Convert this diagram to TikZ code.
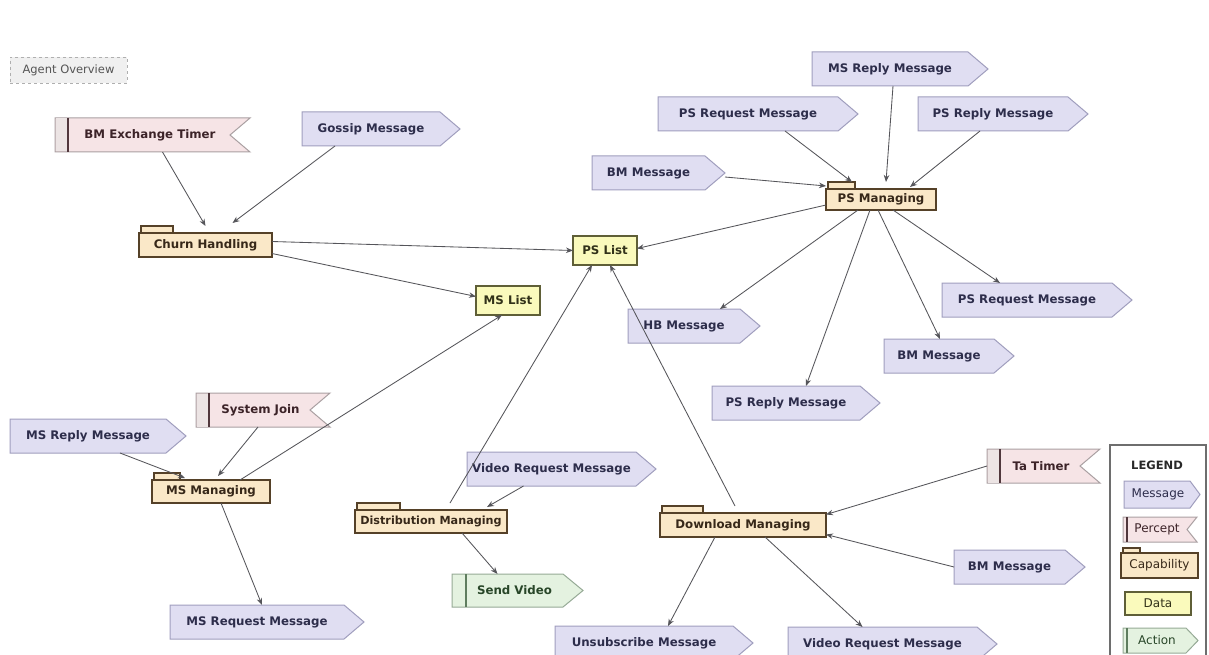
\documentclass[tikz,border=0pt]{standalone}
\usepackage{fontspec}
\setmainfont{DejaVu Sans}
\usetikzlibrary{calc,arrows.meta}

\definecolor{msgfill}{RGB}{224,222,242}
\definecolor{msgline}{RGB}{160,158,190}
\definecolor{msgink}{RGB}{45,45,75}
\definecolor{perfill}{RGB}{246,228,230}
\definecolor{perside}{RGB}{236,228,228}
\definecolor{perline}{RGB}{170,160,162}
\definecolor{perbar}{RGB}{80,55,60}
\definecolor{perink}{RGB}{60,35,40}
\definecolor{capfill}{RGB}{250,232,200}
\definecolor{capline}{RGB}{85,65,40}
\definecolor{capink}{RGB}{55,40,25}
\definecolor{datfill}{RGB}{250,250,188}
\definecolor{datline}{RGB}{95,95,55}
\definecolor{datink}{RGB}{50,50,25}
\definecolor{actfill}{RGB}{228,242,224}
\definecolor{actline}{RGB}{150,170,150}
\definecolor{actbar}{RGB}{95,125,95}
\definecolor{actink}{RGB}{40,70,40}
\definecolor{wire}{RGB}{85,85,90}

\tikzset{
  x=1pt, y=-1pt,
  hitbox/.style={draw=none, fill=none, inner sep=0pt, outer sep=0pt},
  lbl/.style={font=\fontsize{11.8}{14}\selectfont\bfseries, inner sep=0pt},
  keylbl/.style={font=\fontsize{12}{14}\selectfont, inner sep=0pt},
  msgsty/.style={fill=msgfill, draw=msgline, line width=1pt, line join=miter},
  persty/.style={fill=perfill, draw=perline, line width=1pt},
  capsty/.style={fill=capfill, draw=capline, line width=1.2pt},
  datsty/.style={fill=datfill, draw=datline, line width=1.4pt},
  actsty/.style={fill=actfill, draw=actline, line width=1pt},
  conn/.style={draw=wire, line width=0.85pt, -{Stealth[length=7pt,width=5.5pt]}},
}

% message: [tip length] name, x1, y1, x2, y2, text
\newcommand\msgbox[7][20]{%
  \filldraw[msgsty] (#3,#4) -- ({#5-#1},#4) -- (#5,{(#4+#6)/2}) -- ({#5-#1},#6) -- (#3,#6) -- cycle;
  \node[hitbox, minimum width={(#5-#3)*1pt}, minimum height={(#6-#4)*1pt}] (#2) at ({(#3+#5)/2},{(#4+#6)/2}) {};
  \node[lbl, text=msgink] at ({(#3+#5-#1)/2},{(#4+#6)/2}) {#7};}

% percept: name, x1, y1, x2, y2, text
\newcommand\perceptbox[6]{%
  \filldraw[persty] (#2,#3) -- (#4,#3) -- ({#4-20},{(#3+#5)/2}) -- (#4,#5) -- (#2,#5) -- cycle;
  \fill[perside] ({#2+0.5},{#3+0.5}) rectangle ({#2+13},{#5-0.5});
  \draw[perbar, line width=1.6pt] ({#2+13},#3) -- ({#2+13},#5);
  \node[hitbox, minimum width={(#4-#2)*1pt}, minimum height={(#5-#3)*1pt}] (#1) at ({(#2+#4)/2},{(#3+#5)/2}) {};
  \node[lbl, text=perink] at ({(#2+#4-5)/2},{(#3+#5)/2}) {#6};}

% capability: name, x1, y1, x2, y2, tab width, text
\newcommand\capbox[7]{%
  \filldraw[capsty] ({#2+2},#3) rectangle ({#2+2+#6},{#3+7});
  \filldraw[capsty] (#2,{#3+7}) rectangle (#4,#5);
  \node[hitbox, minimum width={(#4-#2)*1pt}, minimum height={(#5-#3)*1pt}] (#1) at ({(#2+#4)/2},{(#3+#5)/2}) {};
  \node[lbl, text=capink] at ({(#2+#4)/2},{(#3+7+#5)/2}) {#7};}

% data: name, x1, y1, x2, y2, text
\newcommand\databox[6]{%
  \filldraw[datsty] (#2,#3) rectangle (#4,#5);
  \node[hitbox, minimum width={(#4-#2)*1pt}, minimum height={(#5-#3)*1pt}] (#1) at ({(#2+#4)/2},{(#3+#5)/2}) {};
  \node[lbl, text=datink] at ({(#2+#4)/2},{(#3+#5)/2}) {#6};}

% action: name, x1, y1, x2, y2, text
\newcommand\actionbox[6]{%
  \filldraw[actsty] (#2,#3) -- ({#4-20},#3) -- (#4,{(#3+#5)/2}) -- ({#4-20},#5) -- (#2,#5) -- cycle;
  \draw[actbar, line width=1.6pt] ({#2+14},#3) -- ({#2+14},#5);
  \node[hitbox, minimum width={(#4-#2)*1pt}, minimum height={(#5-#3)*1pt}] (#1) at ({(#2+#4)/2},{(#3+#5)/2}) {};
  \node[lbl, text=actink] at ({(#2+#4-6)/2},{(#3+#5)/2}) {#6};}

\begin{document}
\begin{tikzpicture}
\useasboundingbox[fill=white] (0,0) rectangle (1209,655);

% title tag
\node[draw={rgb,255:red,175;green,175;blue,175}, dashed, fill={rgb,255:red,240;green,240;blue,240},
      minimum width=117pt, minimum height=26pt, inner sep=0pt,
      font=\fontsize{11.5}{13}\selectfont, text={rgb,255:red,85;green,85;blue,85}]
      (title) at (68.5,70) {Agent Overview};

% capabilities
\capbox{churn}{139}{226}{272}{257}{32}{Churn Handling}
\capbox{psman}{826}{182}{936}{210}{27}{PS Managing}
\capbox{msman}{152}{473}{270}{503}{26}{MS Managing}
\capbox{distman}{355}{503}{507}{533}{43}{\fontsize{11.2}{14}\selectfont Distribution Managing}
\capbox{dlman}{660}{506}{826}{537}{41}{Download Managing}

% data
\databox{pslist}{573}{236}{637}{265}{PS List}
\databox{mslist}{476}{286}{540}{315}{MS List}

% percepts
\perceptbox{bmtimer}{55}{118}{250}{152}{BM Exchange Timer}
\perceptbox{sysjoin}{196}{393}{330}{427}{System Join}
\perceptbox{tatimer}{987}{449}{1100}{483}{Ta Timer}

% messages
\msgbox{gossip}{302}{112}{460}{146}{Gossip Message}
\msgbox{msrepA}{812}{52}{988}{86}{MS Reply Message}
\msgbox{psreqA}{658}{97}{858}{131}{PS Request Message}
\msgbox{psrepA}{918}{97}{1088}{131}{PS Reply Message}
\msgbox{bmA}{592}{156}{725}{190}{BM Message}
\msgbox{psreqB}{942}{283}{1132}{317}{PS Request Message}
\msgbox{hb}{628}{309}{760}{343}{HB Message}
\msgbox{bmB}{884}{339}{1014}{373}{BM Message}
\msgbox{psrepB}{712}{386}{880}{420}{PS Reply Message}
\msgbox{msrepB}{10}{419}{186}{453}{MS Reply Message}
\msgbox{vreqA}{467}{452}{656}{486}{Video Request Message}
\msgbox{msreq}{170}{605}{364}{639}{MS Request Message}
\msgbox{bmC}{954}{550}{1085}{584}{BM Message}
\msgbox{unsub}{555}{626}{753}{660}{Unsubscribe Message}
\msgbox{vreqB}{788}{627}{997}{661}{Video Request Message}

% action
\actionbox{sendvideo}{452}{574}{583}{607}{Send Video}

% connectors
\draw[conn] ($(bmtimer.south)+(10,0)$) -- (churn.north);
\draw[conn] ($(gossip.south)+(-46,0)$) -- ($(churn.north)+(27,-3)$);
\draw[conn] (churn.east) -- (pslist.west);
\draw[conn] ($(churn.east)+(0,12)$) -- ($(mslist.west)+(0,-4)$);

\draw[conn] ($(psman.west)+(0,9)$) -- ($(pslist.east)+(0,-2)$);
\draw[conn] ($(bmA.east)+(0,4)$) -- ($(psman.west)+(0,-10)$);
\draw[conn] ($(psreqA.south)+(27,0)$) -- ($(psman.north)+(-29,0)$);
\draw[conn] ($(msrepA.south)+(-7,0)$) -- ($(psman.north)+(5,0)$);
\draw[conn] ($(psrepA.south)+(-23,0)$) -- ($(psman.north)+(29,5)$);
\draw[conn] ($(psman.south)+(-23,0)$) -- ($(hb.north)+(26,0)$);
\draw[conn] ($(psman.south)+(-11,0)$) -- ($(psrepB.north)+(10,0)$);
\draw[conn] ($(psman.south)+(-3,0)$) -- ($(bmB.north)+(-9,0)$);
\draw[conn] ($(psman.south)+(12,0)$) -- ($(psreqB.north)+(-37,0)$);

\draw[conn] ($(msrepB.south)+(22,0)$) -- ($(msman.north)+(-26,5)$);
\draw[conn] ($(sysjoin.south)+(-5,0)$) -- ($(msman.north)+(7,3)$);
\draw[conn] ($(msman.north)+(29,7)$) -- ($(mslist.south)+(-6,0)$);
\draw[conn] ($(msman.south)+(10,0)$) -- ($(msreq.north)+(-5,0)$);

\draw[conn] ($(distman.north)+(19,0)$) -- ($(pslist.south)+(-13,0)$);
\draw[conn] ($(vreqA.south)+(-38,0)$) -- ($(distman.north)+(56,4)$);
\draw[conn] ($(distman.south)+(31,0)$) -- ($(sendvideo.north)+(-20,0)$);

\draw[conn] ($(dlman.north)+(-8,0)$) -- ($(pslist.south)+(5,0)$);
\draw[conn] (tatimer.west) -- ($(dlman.east)+(0,-7)$);
\draw[conn] (bmC.west) -- ($(dlman.east)+(0,13)$);
\draw[conn] ($(dlman.south)+(-28,0)$) -- ($(unsub.north)+(14,0)$);
\draw[conn] ($(dlman.south)+(22,0)$) -- ($(vreqB.north)+(-30,0)$);

% legend
\draw[draw={rgb,255:red,110;green,110;blue,110}, line width=1.2pt, fill=white] (1110,445) rectangle (1206,660);
\node[font=\fontsize{11.5}{13}\selectfont\bfseries, text={rgb,255:red,40;green,40;blue,40}, inner sep=0pt] (legendtitle) at (1157,465) {LEGEND};
% key: message
\filldraw[msgsty] (1124,481) -- (1190,481) -- (1200,494.5) -- (1190,508) -- (1124,508) -- cycle;
\node[keylbl, text=msgink] (keymsg) at (1158,494.5) {Message};
% key: percept
\filldraw[persty] (1123,517) -- (1197,517) -- (1187,529.5) -- (1197,542) -- (1123,542) -- cycle;
\draw[perbar, line width=1.2pt] (1127,517) -- (1127,542);
\node[keylbl, text=perink] (keyper) at (1157,529.5) {Percept};
% key: capability
\filldraw[capsty] (1123,548) rectangle (1140,553);
\filldraw[capsty] (1121,553) rectangle (1198,578);
\node[keylbl, text=capink] (keycap) at (1159.5,565.5) {Capability};
% key: data
\filldraw[datsty] (1125,592) rectangle (1191,615);
\node[keylbl, text=datink] (keydat) at (1158,603.5) {Data};
% key: action
\filldraw[actsty] (1123,628) -- (1186,628) -- (1198,640.5) -- (1186,653) -- (1123,653) -- cycle;
\draw[actbar, line width=1.2pt] (1127,628) -- (1127,653);
\node[keylbl, text=actink] (keyact) at (1157,640.5) {Action};
\end{tikzpicture}
\end{document}
